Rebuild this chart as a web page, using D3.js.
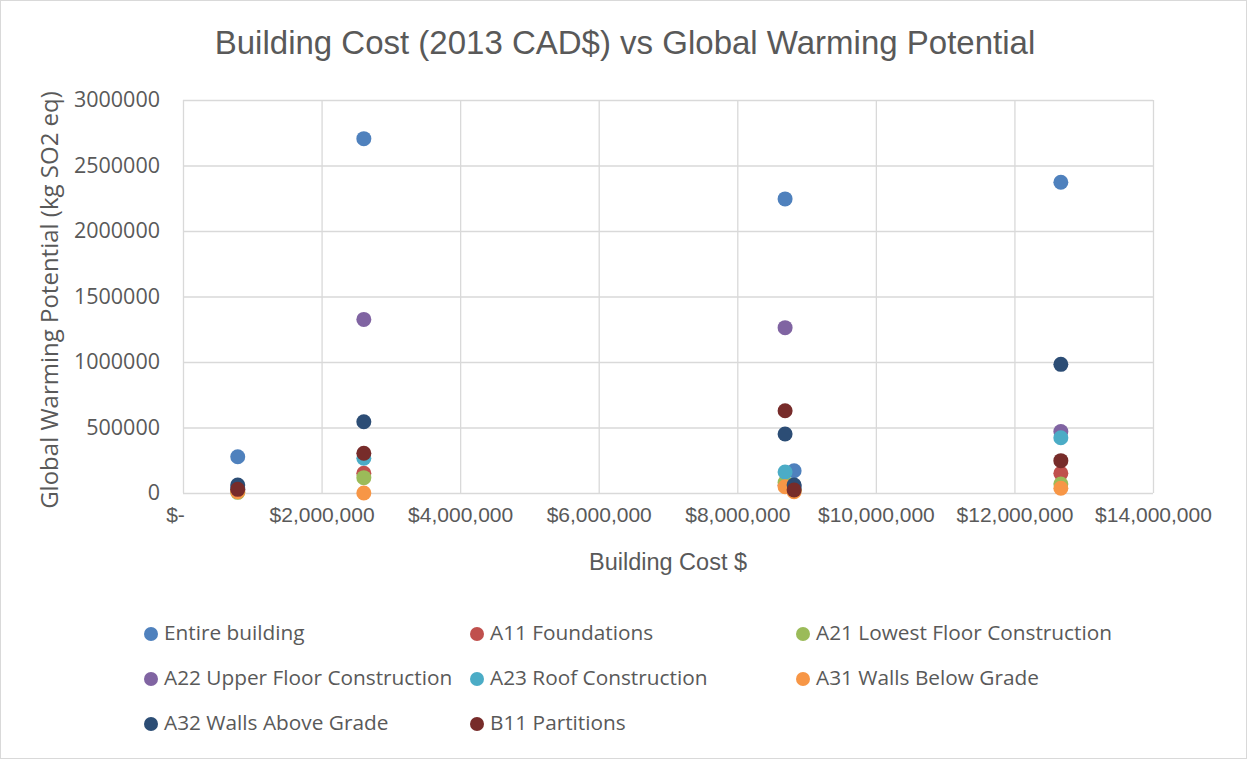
<!DOCTYPE html>
<html>
<head>
<meta charset="utf-8">
<script src="https://cdn.jsdelivr.net/npm/d3@7"></script>
<style>
  body { margin: 0; background: #fff; }
  text { fill: #595959; }
</style>
</head>
<body>
<svg id="chart" width="1247" height="759"></svg>
<script>
// series names and colours (Excel 2013 palette)
var seriesNames = ["Entire building", "A11 Foundations", "A21 Lowest Floor Construction",
  "A22 Upper Floor Construction", "A23 Roof Construction", "A31 Walls Below Grade",
  "A32 Walls Above Grade", "B11 Partitions"];
var seriesColors = ["#4F81BD", "#C0504D", "#9BBB59", "#8064A2", "#4BACC6", "#F79646", "#2C4D75", "#772C2A"];

// building cost of each project (x)
var buildingCost = [790000, 2610000, 8690000, 8820000, 12670000];

// global warming potential per series, one value per project (y)
var entireBuilding   = [277000, 2705000, 2245000, 170000, 2372000];
var a11Foundations   = [20000, 150000, 60000, 30000, 150000];
var a21LowestFloor   = [5000, 117000, 80000, 20000, 69000];
var a22UpperFloor    = [40000, 1325000, 1262000, 50000, 470000];
var a23Roof          = [30000, 265000, 160000, 40000, 422000];
var a31WallsBelow    = [10000, 0, 48000, 10000, 36000];
var a32WallsAbove    = [61000, 544000, 450000, 61000, 982000];
var b11Partitions    = [28000, 303000, 628000, 23000, 247000];

var seriesValues = [entireBuilding, a11Foundations, a21LowestFloor, a22UpperFloor,
  a23Roof, a31WallsBelow, a32WallsAbove, b11Partitions];

var xTicks = [0, 2000000, 4000000, 6000000, 8000000, 10000000, 12000000, 14000000];
var yTicks = [0, 500000, 1000000, 1500000, 2000000, 2500000, 3000000];

var svg = d3.select("svg#chart"),
    width = +svg.attr("width"),
    height = +svg.attr("height");

var narrow = "'Liberation Sans', sans-serif";
var wide = "'Open Sans', 'Noto Sans', sans-serif";

// outer chart border
svg.append("rect")
  .attr("x", 0.5).attr("y", 0.5)
  .attr("width", width - 1).attr("height", height - 1)
  .attr("fill", "#fff").attr("stroke", "#D9D9D9");

var plot = { left: 183, right: 1153, top: 100, bottom: 493 };

var x = d3.scaleLinear().domain([0, 14000000]).range([plot.left, plot.right]);
var y = d3.scaleLinear().domain([0, 3000000]).range([plot.bottom, plot.top]);

var moneyFmt = d3.format("$,");

// gridlines
svg.append("g")
  .attr("transform", "translate(0," + plot.bottom + ")")
  .call(d3.axisBottom(x).tickValues(xTicks).tickSize(-(plot.bottom - plot.top)).tickFormat(""))
  .call(function(g) { g.select(".domain").remove(); })
  .selectAll("line").attr("stroke", "#D9D9D9").attr("stroke-width", 1.3);

svg.append("g")
  .attr("transform", "translate(" + plot.left + ",0)")
  .call(d3.axisLeft(y).tickValues(yTicks).tickSize(-(plot.right - plot.left)).tickFormat(""))
  .call(function(g) { g.select(".domain").remove(); })
  .selectAll("line").attr("stroke", "#D9D9D9").attr("stroke-width", 1.3);

// tick labels
var xAxis = svg.append("g")
  .attr("transform", "translate(0," + plot.bottom + ")")
  .call(d3.axisBottom(x).tickValues(xTicks).tickSize(0).tickPadding(14)
    .tickFormat(function(d) { return d === 0 ? "$-" : moneyFmt(d); }));
xAxis.select(".domain").remove();
xAxis.selectAll("text")
  .attr("fill", "#595959")
  .style("font-family", narrow).style("font-size", "21px")
  .attr("dx", function(d) { return d === 0 ? -8 : 0; });

var yAxis = svg.append("g")
  .attr("transform", "translate(" + plot.left + ",0)")
  .call(d3.axisLeft(y).tickValues(yTicks).tickSize(0).tickPadding(23).tickFormat(d3.format("d")));
yAxis.select(".domain").remove();
yAxis.selectAll("text")
  .attr("fill", "#595959")
  .style("font-family", wide).style("font-size", "21.5px");

// points
var points = [];
seriesValues.forEach(function(vals, s) {
  vals.forEach(function(v, i) { points.push({ s: s, cost: buildingCost[i], gwp: v }); });
});

svg.append("g").selectAll("circle")
  .data(points)
  .enter().append("circle")
  .attr("cx", function(d) { return x(d.cost); })
  .attr("cy", function(d) { return y(d.gwp); })
  .attr("r", 7.5)
  .attr("fill", function(d) { return seriesColors[d.s]; });

// titles
svg.append("text")
  .attr("x", 625).attr("y", 45)
  .attr("text-anchor", "middle").attr("dominant-baseline", "middle")
  .style("font-family", narrow).style("font-size", "33px")
  .text("Building Cost (2013 CAD$) vs Global Warming Potential");

svg.append("text")
  .attr("x", (plot.left + plot.right) / 2).attr("y", 564)
  .attr("text-anchor", "middle").attr("dominant-baseline", "middle")
  .style("font-family", narrow).style("font-size", "23.5px")
  .text("Building Cost $");

svg.append("text")
  .attr("transform", "translate(52," + 300 + ") rotate(-90)")
  .attr("text-anchor", "middle").attr("dominant-baseline", "middle")
  .style("font-family", wide).style("font-size", "24px")
  .text("Global Warming Potential (kg SO2 eq)");

// legend
var legend = svg.append("g").selectAll("g")
  .data(seriesNames)
  .enter().append("g")
  .attr("transform", function(d, i) {
    return "translate(" + (151 + (i % 3) * 326) + "," + (634 + Math.floor(i / 3) * 45) + ")";
  });

legend.append("circle")
  .attr("r", 7)
  .attr("fill", function(d, i) { return seriesColors[i]; });

legend.append("text")
  .attr("x", 13)
  .attr("dominant-baseline", "middle")
  .style("font-family", wide).style("font-size", "20.8px")
  .text(function(d) { return d; });
</script>
</body>
</html>
